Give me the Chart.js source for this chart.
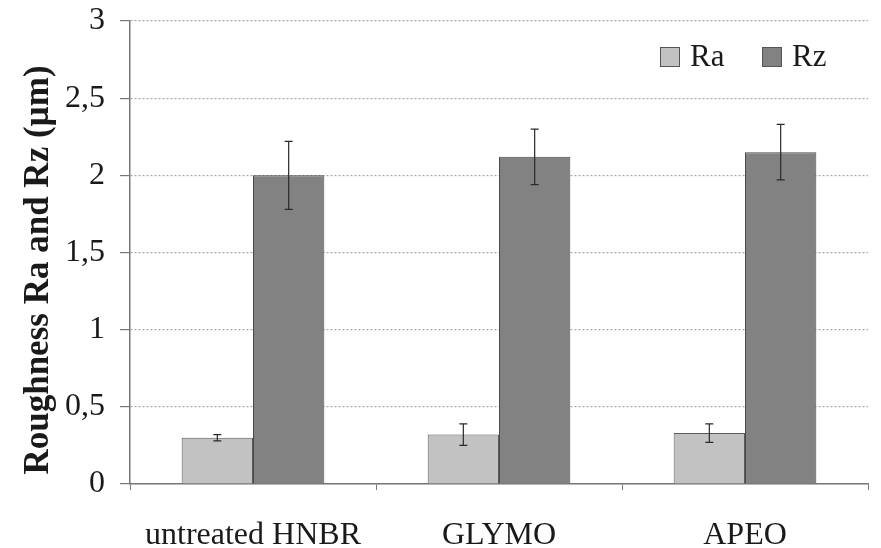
<!DOCTYPE html>
<html>
<head>
<meta charset="utf-8">
<script src="https://cdn.jsdelivr.net/npm/chart.js@4.4.8/dist/chart.umd.min.js"></script>
<style>
  html, body { margin: 0; padding: 0; background: #fff; }
  #wrap { width: 881px; height: 548px; }
</style>
</head>
<body>
<div id="wrap"><canvas id="c" width="881" height="548"></canvas></div>
<script>
// Surface roughness Ra / Rz per treatment, with std-dev error bars.

const categories = ['untreated HNBR', 'GLYMO', 'APEO'];
const raValues = [0.30, 0.32, 0.33];
const raErrors = [0.02, 0.07, 0.06];
const rzValues = [2.00, 2.12, 2.15];
const rzErrors = [0.22, 0.18, 0.18];
const yTicks = [0, 0.5, 1, 1.5, 2, 2.5, 3];

const serif = '"Liberation Serif", "Times New Roman", serif';

// whiskers with caps on top of each bar
const errorBars = {
  id: 'errorBars',
  afterDatasetsDraw(chart) {
    const { ctx, scales: { y } } = chart;
    ctx.save();
    ctx.strokeStyle = '#2a2a2a';
    ctx.lineWidth = 1.2;
    chart.data.datasets.forEach((ds, di) => {
      const meta = chart.getDatasetMeta(di);
      meta.data.forEach((bar, i) => {
        const v = ds.data[i];
        const e = ds.errors[i];
        const top = y.getPixelForValue(v + e);
        const bot = y.getPixelForValue(v - e);
        const x = bar.x;
        ctx.beginPath();
        ctx.moveTo(x, top); ctx.lineTo(x, bot);
        ctx.moveTo(x - 4, top); ctx.lineTo(x + 4, top);
        ctx.moveTo(x - 4, bot); ctx.lineTo(x + 4, bot);
        ctx.stroke();
      });
    });
    ctx.restore();
  }
};

// legend sits inside the plot, top right
const innerLegend = {
  id: 'innerLegend',
  afterDraw(chart) {
    const { ctx, chartArea } = chart;
    ctx.save();
    ctx.font = '31px ' + serif;
    ctx.textBaseline = 'middle';
    let x = chartArea.right - 208;
    const yMid = chartArea.top + 36;
    chart.data.datasets.forEach((ds) => {
      ctx.fillStyle = ds.backgroundColor;
      ctx.strokeStyle = '#555';
      ctx.lineWidth = 1;
      ctx.fillRect(x, yMid - 10, 20, 20);
      ctx.strokeRect(x + 0.5, yMid - 9.5, 19, 19);
      ctx.fillStyle = '#1a1a1a';
      ctx.fillText(ds.label, x + 30, yMid + 1);
      x += 102;
    });
    ctx.restore();
  }
};

new Chart(document.getElementById('c'), {
  type: 'bar',
  data: {
    labels: categories,
    datasets: [
      { label: 'Ra', data: raValues, errors: raErrors, backgroundColor: '#c2c2c2', borderColor: '#5a5a5a', borderWidth: 1 },
      { label: 'Rz', data: rzValues, errors: rzErrors, backgroundColor: '#828282', borderColor: '#4a4a4a', borderWidth: 1 },
    ],
  },
  options: {
    responsive: false,
    animation: false,
    layout: { padding: { top: 21, right: 13 } },
    datasets: { bar: { categoryPercentage: 0.58, barPercentage: 1 } },
    plugins: { legend: { display: false }, tooltip: { enabled: false } },
    scales: {
      x: {
        grid: { offset: true, drawOnChartArea: false, tickLength: 6, color: '#777' },
        border: { color: '#777', width: 1.5 },
        ticks: { color: '#1a1a1a', font: { family: serif, size: 32 }, padding: 26 },
        afterFit(s) { s.height = 64; },
      },
      y: {
        min: 0,
        max: 3,
        afterBuildTicks(s) { s.ticks = yTicks.map((v) => ({ value: v })); },
        grid: { color: '#a8a8a8', lineWidth: 1.2, tickLength: 10, tickColor: '#777', tickBorderDash: [] },
        border: { color: '#777', width: 1.5, dash: [2, 2] },
        ticks: {
          color: '#1a1a1a',
          // small lineHeight so the label overflow doesn't push the plot down
          font: { family: serif, size: 32, lineHeight: 0.35 },
          padding: 15,
          callback: (v) => String(v).replace('.', ','),
        },
        title: {
          display: true,
          text: 'Roughness Ra and Rz (µm)    ',
          color: '#1a1a1a',
          font: { family: serif, size: 35, weight: 'bold' },
          padding: { top: 18 },
        },
        afterFit(s) { s.width = 130; },
      },
    },
  },
  plugins: [errorBars, innerLegend],
});
</script>
</body>
</html>
